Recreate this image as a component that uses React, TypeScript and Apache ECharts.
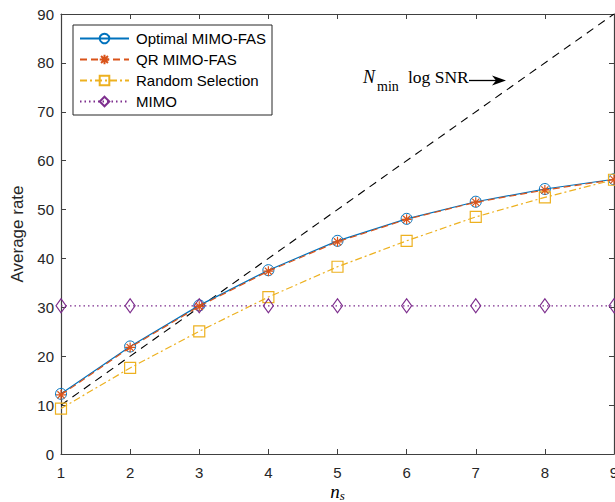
import React, { useEffect, useRef } from "react";
import * as echarts from "echarts";

const ns = [1, 2, 3, 4, 5, 6, 7, 8, 9];
const optimalRate = [12.3, 22.0, 30.4, 37.6, 43.6, 48.1, 51.6, 54.2, 56.2];
const qrRate = [12.1, 21.8, 30.2, 37.4, 43.4, 48.0, 51.5, 54.0, 56.1];
const randomRate = [9.3, 17.6, 25.1, 32.1, 38.3, 43.6, 48.5, 52.5, 56.1];
const mimoRate = [30.3, 30.3, 30.3, 30.3, 30.3, 30.3, 30.3, 30.3, 30.3];
const refX = [1, 9];
const refY = [10, 90];
const yTicks = [0, 10, 20, 30, 40, 50, 60, 70, 80, 90];

const seriesNames = ["Optimal MIMO-FAS", "QR MIMO-FAS", "Random Selection", "MIMO"];

const STAR =
  "path://M0,-5L0,5M-5,0L5,0M-3.6,-3.6L3.6,3.6M-3.6,3.6L3.6,-3.6";

const pair = (xs: number[], ys: number[]) => xs.map((x, i) => [x, ys[i]]);

export default function App() {
  const ref = useRef<HTMLDivElement>(null);
  useEffect(() => {
    document.body.style.margin = "0";
    document.body.style.overflow = "hidden";
    if (!ref.current) return;
    const chart = echarts.init(ref.current, undefined, { renderer: "svg" });
    const axisColor = "#404040";
    const font = "'Liberation Sans', Arial, Helvetica, sans-serif";
    const serif = "'Liberation Serif', 'DejaVu Serif', serif";
    const option: any = {
      animation: false,
      backgroundColor: "#ffffff",
      grid: { left: 61, right: 1, top: 14, bottom: 48, containLabel: false, outerBoundsMode: "none" },
      legend: {
        data: seriesNames,
        orient: "vertical",
        left: 73,
        top: 25,
        width: 201,
        padding: [6, 6, 6, 6],
        itemWidth: 49,
        itemHeight: 12,
        itemGap: 6,
        backgroundColor: "#ffffff",
        borderColor: "#262626",
        borderWidth: 1,
        borderRadius: 0,
        selectedMode: false,
        textStyle: { fontFamily: font, fontSize: 15, color: "#000000", padding: [0, 0, 0, 2] },
      },
      xAxis: [
        {
          type: "value",
          min: 1,
          max: 9,
          interval: 1,
          name: "{n|n}{s|s}",
          nameLocation: "middle",
          nameGap: 27,
          nameMoveOverlap: false,
          nameTextStyle: {
            rich: {
              n: { fontFamily: serif, fontStyle: "italic", fontSize: 19, color: "#000" },
              s: { fontFamily: serif, fontStyle: "italic", fontSize: 13, color: "#000", padding: [8, 0, 0, 0] },
            },
          },
          axisLine: { show: true, onZero: false, lineStyle: { color: axisColor, width: 1.2 } },
          axisTick: { show: true, inside: true, length: 5, lineStyle: { color: axisColor } },
          axisLabel: { fontFamily: font, fontSize: 15, color: "#262626", margin: 11 },
          splitLine: { show: false },
        },
        {
          type: "value",
          position: "top",
          min: 1,
          max: 9,
          interval: 1,
          axisLine: { show: true, onZero: false, lineStyle: { color: axisColor, width: 1.2 } },
          axisTick: { show: true, inside: true, length: 5, lineStyle: { color: axisColor } },
          axisLabel: { show: false },
          splitLine: { show: false },
        },
      ],
      yAxis: [
        {
          type: "value",
          min: 0,
          max: 90,
          interval: 10,
          name: "Average rate",
          nameLocation: "middle",
          nameGap: 35,
          nameMoveOverlap: false,
          nameRotate: 90,
          nameTextStyle: { fontFamily: font, fontSize: 17, color: "#262626" },
          axisLine: { show: true, onZero: false, lineStyle: { color: axisColor, width: 1.2 } },
          axisTick: { show: true, inside: true, length: 5, lineStyle: { color: axisColor } },
          axisLabel: {
            fontFamily: font,
            fontSize: 15,
            color: "#262626",
            margin: 7,
            formatter: (v: number) => (yTicks.includes(v) ? String(v) : ""),
          },
          splitLine: { show: false },
        },
        {
          type: "value",
          position: "right",
          min: 0,
          max: 90,
          interval: 10,
          axisLine: { show: true, onZero: false, lineStyle: { color: axisColor, width: 1.2 } },
          axisTick: { show: true, inside: true, length: 5, lineStyle: { color: axisColor } },
          axisLabel: { show: false },
          splitLine: { show: false },
        },
      ],
      series: [
        {
          name: "Optimal MIMO-FAS",
          type: "line",
          data: pair(ns, optimalRate),
          symbol: "circle",
          symbolSize: 11,
          lineStyle: { color: "#0072BD", width: 1.2, type: "solid" },
          itemStyle: { color: "rgba(255,255,255,0)", borderColor: "#0072BD", borderWidth: 1 },
          z: 3,
        },
        {
          name: "QR MIMO-FAS",
          type: "line",
          data: pair(ns, qrRate),
          symbol: STAR,
          symbolSize: 10,
          lineStyle: { color: "#D95319", width: 1.2, type: [7, 4] },
          itemStyle: { color: "none", borderColor: "#D95319", borderWidth: 1.2 },
          z: 4,
        },
        {
          name: "Random Selection",
          type: "line",
          data: pair(ns, randomRate),
          symbol: "rect",
          symbolSize: 11,
          lineStyle: { color: "#EDB120", width: 1.2, type: [7, 3, 2, 3] },
          itemStyle: { color: "rgba(255,255,255,0)", borderColor: "#EDB120", borderWidth: 1.2 },
          z: 3,
        },
        {
          name: "MIMO",
          type: "line",
          data: pair(ns, mimoRate),
          symbol: "diamond",
          symbolSize: [10, 14],
          lineStyle: { color: "#7E2F8E", width: 1.2, type: [1.5, 3] },
          itemStyle: { color: "rgba(255,255,255,0)", borderColor: "#7E2F8E", borderWidth: 1.2 },
          z: 3,
        },
        {
          name: "ref",
          type: "line",
          data: pair(refX, refY),
          symbol: "none",
          lineStyle: { color: "#000000", width: 1.1, type: [8, 6] },
          z: 2,
        },
      ],
      graphic: [
        {
          type: "text",
          left: 363,
          top: 68,
          style: { text: "N", font: `italic 18px ${serif}`, fill: "#000" },
        },
        {
          type: "text",
          left: 377,
          top: 79,
          style: { text: "min", font: `14px ${serif}`, fill: "#000" },
        },
        {
          type: "text",
          left: 408,
          top: 68,
          style: { text: "log SNR", font: `17.5px ${serif}`, fill: "#000" },
        },
        {
          type: "line",
          shape: { x1: 469, y1: 80.5, x2: 500, y2: 80.5 },
          style: { stroke: "#000", lineWidth: 1.3 },
        },
        {
          type: "polygon",
          shape: { points: [[506, 80.5], [492, 75.5], [496, 80.5], [492, 85.5]] },
          style: { fill: "#000" },
        },
      ],
    };
    chart.setOption(option);
    return () => chart.dispose();
  }, []);
  return <div ref={ref} style={{ width: 615, height: 502 }} />;
}
